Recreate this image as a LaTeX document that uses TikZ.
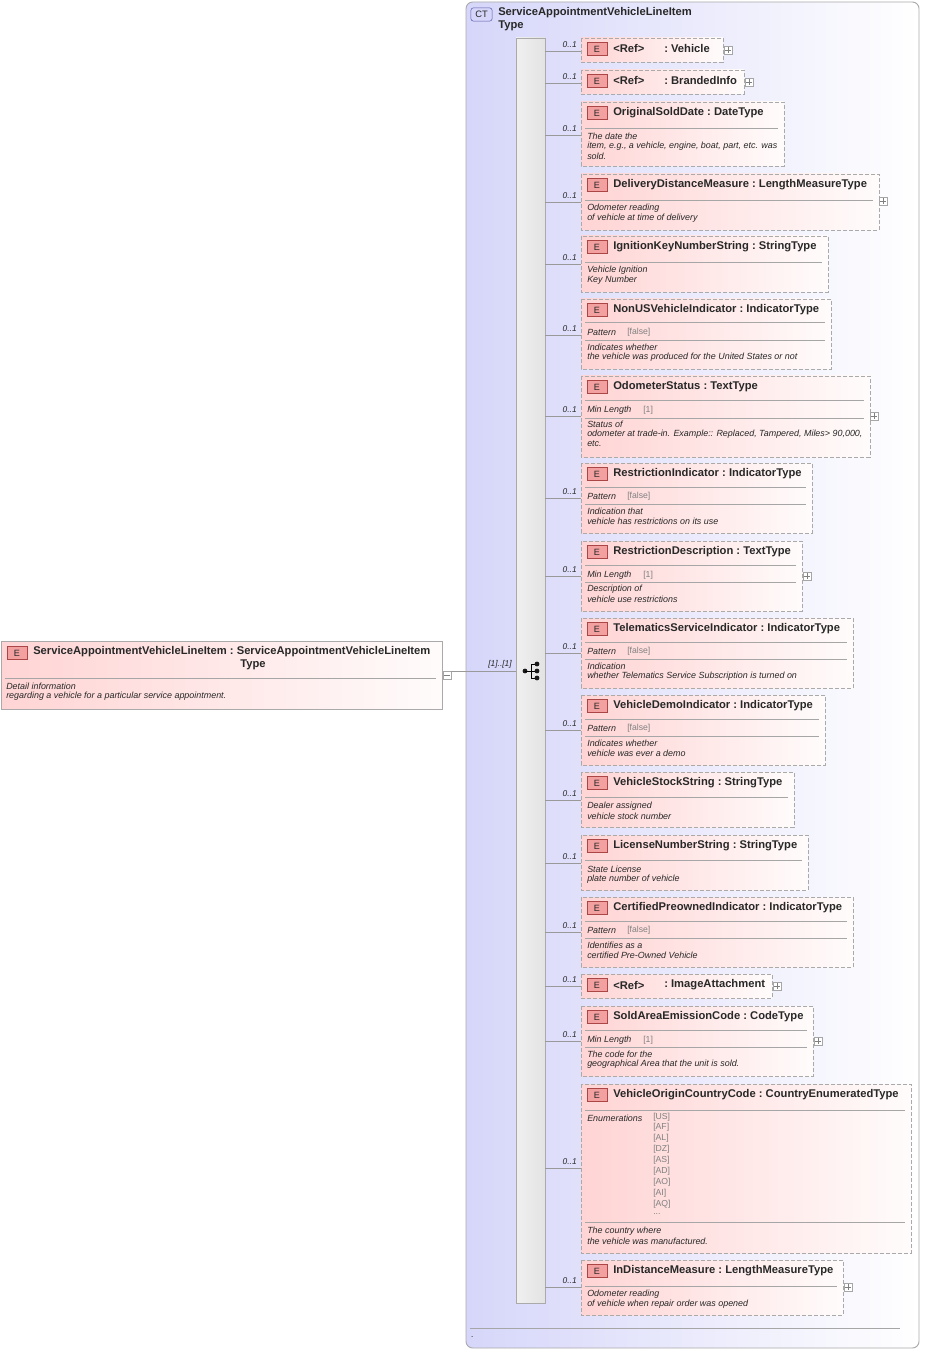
\documentclass[tikz,border=0pt]{standalone}
\usepackage{fontspec}
\setmainfont{Liberation Sans}
\begin{document}
\definecolor{ctfill}{RGB}{214,214,250}
\definecolor{elpink}{RGB}{255,212,212}
\definecolor{badge}{RGB}{242,160,160}
\definecolor{badgeb}{RGB}{170,70,70}
\definecolor{txt}{RGB}{40,40,40}
\definecolor{bord}{RGB}{170,170,170}
\tikzset{
 ebox/.style={draw=bord,dashed,dash pattern=on 3pt off 1.5pt,left color=elpink,right color=elpink!8,line width=0.7pt},
 sep/.style={draw=gray!70,line width=0.5pt},
 conn/.style={draw=gray!80,line width=0.6pt},
 ttl/.style={anchor=west,inner sep=0,font=\fontsize{8.4}{10}\selectfont\bfseries,text=txt},
 dsc/.style={anchor=west,inner sep=0,font=\fontsize{6.7}{8}\selectfont\itshape,text=txt},
 gry/.style={anchor=west,inner sep=0,font=\fontsize{6.5}{7}\selectfont,text=gray},
 card/.style={anchor=east,inner sep=0,font=\fontsize{6.3}{7}\selectfont\itshape,text=txt},
 plusb/.style={draw=gray!70,fill=white,line width=0.4pt,minimum size=6pt,inner sep=0},
}
\newcommand\ebadge[2]{\node[draw=badgeb,fill=badge,line width=0.5pt,minimum width=15pt,minimum height=9.5pt,inner sep=0,font=\fontsize{6.8}{7}\selectfont,text=txt] at (#1,#2) {E};}
\newcommand\etitle[2]{\ebadge{597}{#1+11}\node[ttl] at (613,#1+11) {#2};}
\newcommand\hsep[2]{\draw[sep] (585,#1) -- (#2-6,#1);}
\newcommand\dl[2]{\node[dsc] at (587,#1) {#2};}
\newcommand\pluss[3]{\node[plusb] (#1) at (#2,#3) {}; \draw[gray,line width=0.4pt] ([xshift=-2pt]#1.center) -- ([xshift=2pt]#1.center) ([yshift=-2pt]#1.center) -- ([yshift=2pt]#1.center);}
\newcommand\child[5]{% name top bottom right liney
 \path[ebox] (581,#2) rectangle (#4,#3);
 \coordinate (#1) at (581,#5);
 \draw[conn] (seq.east |- #1) -- (#1);
 \node[card] at (577,#5-6) {0..1};}
\begin{tikzpicture}[x=0.75pt,y=-0.75pt]
\useasboundingbox (0,0) rectangle (925,1351);
\fill[white] (0,0) rectangle (925,1351);
% CT box
\path[draw=bord,rounded corners=5pt,left color=ctfill,right color=white,line width=0.7pt] (466,2) rectangle (919,1348);
\node[draw=gray!70!blue,fill=ctfill,rounded corners=2pt,minimum width=16pt,minimum height=10pt,inner sep=0,font=\fontsize{7}{7}\selectfont,text=txt] (ct) at (481.5,14.5) {CT};
\node[ttl,anchor=north west,align=left,font=\fontsize{8.4}{9.7}\selectfont\bfseries] at (498,7) {ServiceAppointmentVehicleLineItem\\Type};
\draw[sep] (470,1328) -- (900,1328);
\node[dsc] at (471,1337) {.};
% sequence bar
\node[draw=bord,left color=gray!12,right color=gray!22,minimum width=21.75pt,minimum height=949pt,inner sep=0] (seq) at (530.5,670.5) {};
% sequence symbol
\fill[gray!20!black] (525,671) circle (1.8pt);
\draw[black,line width=0.6pt] (525,671) -- (531,671) (531,664) -- (531,678) (531,664) -- (537,664) (531,671) -- (537,671) (531,678) -- (537,678);
\foreach \yy in {664,671,678} \fill[gray!20!black] (537,\yy) circle (1.8pt);
% left element
\path[draw=bord,left color=elpink,right color=elpink!8,line width=0.7pt] (1,641) rectangle (442,709);
\node[draw=badgeb,fill=badge,line width=0.5pt,minimum width=15pt,minimum height=9.5pt,inner sep=0,font=\fontsize{6.8}{7}\selectfont,text=txt] (lb) at (17,653) {E};
\node[ttl] (lt) at (33,652) {ServiceAppointmentVehicleLineItem\ :\ ServiceAppointmentVehicleLineItem};
\node[ttl,anchor=center] at (253,665) {Type};
\draw[sep] (5,678) -- (436,678);
\node[dsc] at (6,686) {Detail information};
\node[dsc] at (6,696) {regarding a vehicle for a particular service appointment.};
\node[plusb] (mn) at (447,675) {};
\draw[gray,line width=0.4pt] ([xshift=-2pt]mn.center) -- ([xshift=2pt]mn.center);
\draw[conn] (mn.east |- 0,671) -- (seq.west |- 0,671);
\node[card] at (512,664) {[1]..[1]};
% children
\child{c1}{38}{62}{723}{51}
\ebadge{597}{49}\node[ttl] at (613,49) {<Ref>}; \node[ttl] at (664,49) {:\ Vehicle};
\pluss{p1}{728}{50}
\child{c2}{70}{94}{744}{83}
\ebadge{597}{81}\node[ttl] at (613,81) {<Ref>}; \node[ttl] at (664,81) {:\ BrandedInfo};
\pluss{p2}{749}{82}
\child{c3}{102}{166}{784}{135}
\etitle{102}{OriginalSoldDate\ :\ DateType}\hsep{128}{784}
\dl{136}{The date the}\dl{146}{item, e.g., a vehicle, engine, boat, part, etc. was}\dl{156}{sold.}
\child{c4}{174}{230}{879}{202}
\etitle{174}{DeliveryDistanceMeasure\ :\ LengthMeasureType}\hsep{200}{879}
\dl{208}{Odometer reading}\dl{218}{of vehicle at time of delivery}
\pluss{p4}{883}{201}
\child{c5}{236}{292}{828}{264}
\etitle{236}{IgnitionKeyNumberString\ :\ StringType}\hsep{262}{828}
\dl{270}{Vehicle Ignition}\dl{280}{Key Number}
\child{c6}{299}{369}{831}{335}
\etitle{299}{NonUSVehicleIndicator\ :\ IndicatorType}\hsep{322}{831}
\dl{332}{Pattern}\node[gry] at (627,332) {[false]};\hsep{340}{831}
\dl{347}{Indicates whether}\dl{357}{the vehicle was produced for the United States or not}
\child{c7}{376}{457}{870}{416}
\etitle{376}{OdometerStatus\ :\ TextType}\hsep{400}{870}
\dl{410}{Min Length}\node[gry] at (643,410) {[1]};\hsep{418}{870}
\dl{424}{Status of}\dl{434}{odometer at trade-in. Example:: Replaced, Tampered, Miles> 90,000,}\dl{444}{etc.}
\pluss{p7}{874}{416}
\child{c8}{463}{533}{812}{498}
\etitle{463}{RestrictionIndicator\ :\ IndicatorType}\hsep{487}{812}
\dl{496}{Pattern}\node[gry] at (627,496) {[false]};\hsep{504}{812}
\dl{511}{Indication that}\dl{521}{vehicle has restrictions on its use}
\child{c9}{541}{611}{802}{576}
\etitle{541}{RestrictionDescription\ :\ TextType}\hsep{565}{802}
\dl{575}{Min Length}\node[gry] at (643,575) {[1]};\hsep{582}{802}
\dl{589}{Description of}\dl{599}{vehicle use restrictions}
\pluss{p9}{807}{576}
\child{c10}{618}{688}{853}{653}
\etitle{618}{TelematicsServiceIndicator\ :\ IndicatorType}\hsep{642}{853}
\dl{651}{Pattern}\node[gry] at (627,651) {[false]};\hsep{659}{853}
\dl{666}{Indication}\dl{676}{whether Telematics Service Subscription is turned on}
\child{c11}{695}{765}{825}{730}
\etitle{695}{VehicleDemoIndicator\ :\ IndicatorType}\hsep{719}{825}
\dl{728}{Pattern}\node[gry] at (627,728) {[false]};\hsep{736}{825}
\dl{743}{Indicates whether}\dl{753}{vehicle was ever a demo}
\child{c12}{772}{827}{794}{800}
\etitle{772}{VehicleStockString\ :\ StringType}\hsep{797}{794}
\dl{806}{Dealer assigned}\dl{816}{vehicle stock number}
\child{c13}{835}{890}{808}{863}
\etitle{835}{LicenseNumberString\ :\ StringType}\hsep{860}{808}
\dl{869}{State License}\dl{879}{plate number of vehicle}
\child{c14}{897}{967}{853}{932}
\etitle{897}{CertifiedPreownedIndicator\ :\ IndicatorType}\hsep{921}{853}
\dl{930}{Pattern}\node[gry] at (627,930) {[false]};\hsep{938}{853}
\dl{945}{Identifies as a}\dl{955}{certified Pre-Owned Vehicle}
\child{c15}{974}{998}{772}{986}
\ebadge{597}{985}\node[ttl] at (613,985) {<Ref>}; \node[ttl] at (664,985) {:\ ImageAttachment};
\pluss{p15}{777}{986}
\child{c16}{1006}{1076}{813}{1041}
\etitle{1006}{SoldAreaEmissionCode\ :\ CodeType}\hsep{1030}{813}
\dl{1040}{Min Length}\node[gry] at (643,1040) {[1]};\hsep{1047}{813}
\dl{1054}{The code for the}\dl{1064}{geographical Area that the unit is sold.}
\pluss{p16}{818}{1041}
\child{c17}{1084}{1253}{911}{1168}
\etitle{1084}{VehicleOriginCountryCode\ :\ CountryEnumeratedType}\hsep{1110}{911}
\dl{1118}{Enumerations}
\node[gry] at (653,1117) {[US]};\node[gry] at (653,1127) {[AF]};\node[gry] at (653,1138) {[AL]};
\node[gry] at (653,1149) {[DZ]};\node[gry] at (653,1160) {[AS]};\node[gry] at (653,1171) {[AD]};
\node[gry] at (653,1182) {[AO]};\node[gry] at (653,1193) {[AI]};\node[gry] at (653,1204) {[AQ]};
\node[gry] at (653,1214) {...};
\hsep{1222}{911}
\dl{1231}{The country where}\dl{1241}{the vehicle was manufactured.}
\child{c18}{1260}{1315}{843}{1287}
\etitle{1260}{InDistanceMeasure\ :\ LengthMeasureType}\hsep{1286}{843}
\dl{1294}{Odometer reading}\dl{1304}{of vehicle when repair order was opened}
\pluss{p18}{848}{1287}
\end{tikzpicture}
\end{document}
